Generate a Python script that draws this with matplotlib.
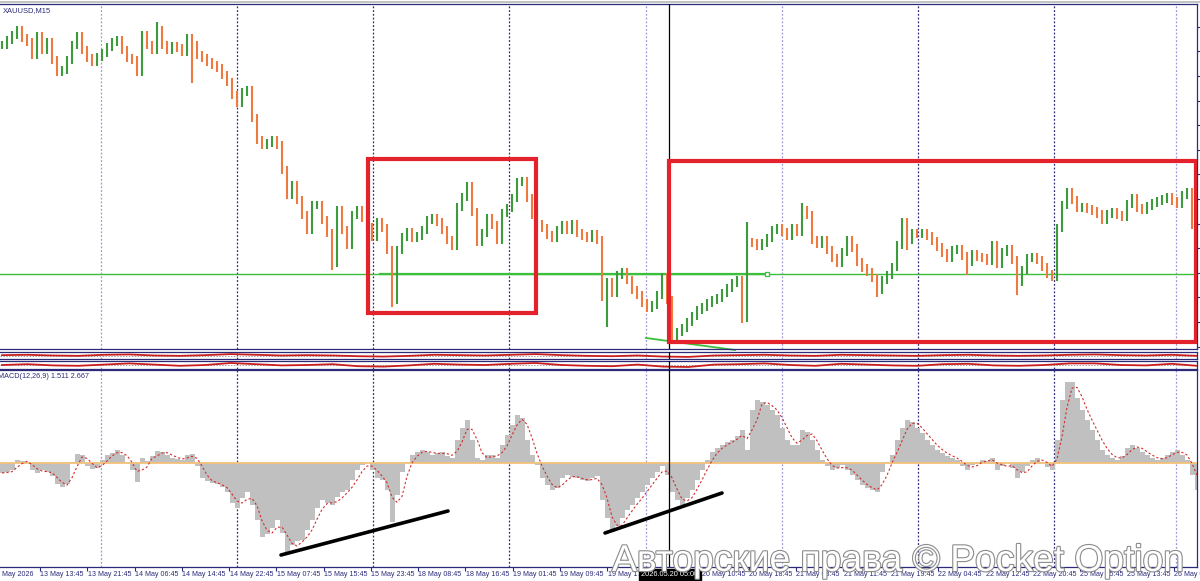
import numpy as np
import pandas as pd
import matplotlib
matplotlib.use("Agg")
import matplotlib.pyplot as plt
from matplotlib.lines import Line2D
from matplotlib.patches import Rectangle
import matplotlib.patheffects as pe

W, H = 1200, 581

# XAUUSD M15 closes, one value per ~5 px of the screenshot
close = [
    4755, 4760, 4765, 4770, 4762, 4758, 4745, 4764, 4750, 4758, 4740, 4728, 4730, 4740, 4755, 4764,
    4750, 4742, 4738, 4743, 4747, 4753, 4758, 4760, 4750, 4742, 4740, 4728, 4765, 4755, 4750, 4770,
    4755, 4750, 4754, 4752, 4748, 4762, 4755, 4745, 4742, 4738, 4735, 4732, 4725, 4718, 4705, 4697,
    4708, 4710, 4682, 4660, 4655, 4657, 4660, 4655, 4630, 4605, 4615, 4600, 4585, 4570, 4595, 4595,
    4580, 4567, 4537, 4590, 4570, 4555, 4585, 4590, 4582, 4573, 4563, 4578, 4572, 4550, 4500, 4550,
    4563, 4568, 4562, 4564, 4570, 4580, 4582, 4578, 4570, 4560, 4554, 4593, 4603, 4614, 4588, 4558,
    4567, 4582, 4575, 4560, 4587, 4592, 4602, 4618, 4619, 4602, 4585, 4576, 4572, 4565, 4562, 4570,
    4575, 4570, 4576, 4567, 4564, 4562, 4566, 4560, 4503, 4518, 4507, 4525, 4528, 4520, 4510, 4505,
    4497, 4492, 4495, 4505, 4523, 4500, 4464, 4468, 4472, 4478, 4484, 4490, 4493, 4497, 4500, 4502,
    4507, 4512, 4517, 4520, 4482, 4558, 4557, 4554, 4557, 4562, 4570, 4572, 4568, 4564, 4572, 4568,
    4590, 4585, 4560, 4556, 4560, 4550, 4542, 4537, 4548, 4560, 4552, 4538, 4532, 4528, 4522, 4510,
    4520, 4525, 4533, 4555, 4578, 4560, 4567, 4566, 4567, 4564, 4559, 4553, 4547, 4542, 4550, 4551,
    4544, 4538, 4546, 4543, 4542, 4539, 4555, 4536, 4548, 4551, 4540, 4518, 4530, 4542, 4543, 4540,
    4533, 4526, 4523, 4572, 4595, 4608, 4600, 4592, 4593, 4591, 4589, 4586, 4580, 4586, 4588, 4585,
    4583, 4596, 4602, 4592, 4590, 4594, 4597, 4599, 4601, 4603, 4599, 4596, 4605, 4608, 4575, 4565,
]

# long wicks that stick out of the open/close range
wick_idx = [31, 38, 66, 78, 103, 121, 134, 148, 149, 160, 175, 181, 193, 203]
wick_val = [4778, 4717, 4530, 4493, 4622, 4473, 4462, 4477, 4578, 4597, 4503, 4550, 4525, 4505]

# MACD(12,26,9) main line, same sampling
macd = [
    -1.0, -0.9, -0.7, 0.3, 0.2, 0.0, -0.7, -1.0, -0.7, -0.9, -1.3, -2.1, -2.4, -2.1, 0.1, 0.9,
    0.8, -0.3, -0.6, -0.5, 0.3, 0.8, 1.0, 1.3, 0.8, 0.1, -0.7, -1.9, 0.5, 0.2, 0.7, 1.2,
    1.1, 0.8, 0.5, 0.4, 0.3, 0.8, 0.9, -0.3, -1.5, -1.8, -2.0, -2.1, -2.4, -2.9, -4.0, -4.5,
    -3.5, -2.9, -4.2, -5.7, -7.4, -7.1, -6.5, -5.7, -7.0, -8.9, -8.2, -7.8, -7.7, -6.7, -5.7, -4.5,
    -3.7, -4.0, -4.2, -3.4, -2.9, -2.7, -1.7, -0.7, -0.2, 0.0, -0.7, -1.5, -1.7, -2.7, -5.9, -3.2,
    -0.9, 0.1, 0.8, 1.1, 1.3, 1.1, 0.8, 1.0, 1.1, 0.7, 0.5, 2.3, 3.5, 4.3, 2.3, 0.5,
    0.3, 0.8, 0.8, 0.5, 1.8, 2.8, 3.8, 4.8, 4.5, 2.3, 0.8, -0.2, -1.5, -2.2, -2.7, -2.5,
    -1.5, -1.2, -1.4, -1.5, -1.7, -1.8, -1.5, -1.3, -3.7, -5.5, -6.9, -6.3, -5.5, -4.7, -4.2, -3.5,
    -2.9, -2.2, -1.5, -0.9, -0.3, -1.2, -2.9, -3.7, -4.2, -3.5, -2.7, -1.7, -0.7, 0.3, 1.1, 1.5,
    1.8, 2.1, 2.3, 2.7, 3.3, 1.3, 5.3, 6.3, 6.1, 5.8, 5.3, 4.8, 3.5, 2.3, 1.8, 1.8,
    3.3, 3.1, 2.3, 1.3, 0.3, -0.3, -0.7, -0.5, -0.2, -0.7, -1.2, -1.7, -2.2, -2.5, -2.7, -2.9,
    -0.9, 0.1, 0.8, 2.3, 3.5, 4.3, 4.1, 3.5, 3.0, 2.3, 1.8, 1.3, 1.0, 0.7, 0.5, 0.3,
    -0.3, -0.7, -0.2, 0.1, 0.3, 0.2, 0.5, -0.7, -0.3, 0.0, -0.5, -1.5, -0.9, -0.3, 0.3, 0.5,
    0.1, -0.4, -0.7, 2.3, 6.3, 8.1, 8.1, 6.5, 5.3, 4.3, 3.3, 2.3, 1.3, 0.8, 0.5, 0.3,
    0.7, 1.5, 1.8, 1.5, 1.1, 0.8, 0.5, 0.3, 0.5, 0.8, 1.1, 1.3, 0.8, 0.3, -1.2, -2.7,
]

# two small oscillator strips under the price chart (0 = bottom, 1 = top)
strip1 = [0.55, 0.6, 0.5, 0.45, 0.6, 0.65, 0.5, 0.45, 0.55, 0.7, 0.6, 0.5, 0.55, 0.5, 0.4, 0.35,
          0.45, 0.6, 0.55, 0.5, 0.6, 0.7, 0.55, 0.45, 0.4, 0.5, 0.35, 0.3, 0.5, 0.55, 0.6, 0.5,
          0.45, 0.6, 0.55, 0.5, 0.45, 0.55, 0.6, 0.5, 0.45, 0.5, 0.6, 0.65, 0.55, 0.5, 0.6, 0.45]
strip2 = [0.5, 0.6, 0.45, 0.4, 0.55, 0.7, 0.55, 0.4, 0.5, 0.75, 0.6, 0.45, 0.5, 0.6, 0.35, 0.3,
          0.45, 0.65, 0.55, 0.5, 0.65, 0.75, 0.5, 0.4, 0.35, 0.55, 0.3, 0.25, 0.55, 0.6, 0.7, 0.5,
          0.4, 0.65, 0.55, 0.45, 0.4, 0.6, 0.65, 0.45, 0.4, 0.5, 0.7, 0.7, 0.5, 0.45, 0.65, 0.4]

time_labels = [
    "13 May 13:45", "13 May 21:45", "14 May 06:45", "14 May 14:45", "14 May 22:45", "15 May 07:45",
    "15 May 15:45", "15 May 23:45", "18 May 08:45", "18 May 16:45", "19 May 01:45", "19 May 09:45",
    "19 May 17:45", "20 May 02:45", "20 May 10:45", "20 May 18:45", "21 May 03:45", "21 May 11:45",
    "21 May 19:45", "22 May 04:45", "22 May 12:45", "22 May 20:45", "25 May 05:45", "25 May 13:45",
    "26 May 00:45",
]
hidden_label = "20 May 02:45"  # sits under the crosshair time box

NAVY = "#2b2b7a"
GREEN_UP = "#3d9a3d"
ORANGE_DN = "#ee7a40"
LEVEL = 4526
XMIN, XMAX = -0.4, 239.0


def rect(x0, y0, x1, y1):
    return [x0 / W, 1 - y1 / H, (x1 - x0) / W, (y1 - y0) / H]


def px2i(px):
    return (px - 2) / 5.0


fig = plt.figure(figsize=(W / 100, H / 100), dpi=100)
fig.patch.set_facecolor("white")

ax = fig.add_axes(rect(0, 4, 1197, 349))
s1 = fig.add_axes(rect(0, 352, 1197, 359))
s2 = fig.add_axes(rect(0, 361, 1197, 369))
am = fig.add_axes(rect(0, 370, 1197, 567))

grid_px = [101, 237, 373, 509, 646, 782, 918, 1054, 1176]
grid_col = ["#9a9ad6", NAVY, NAVY, NAVY, "#9a9ad6", "#9a9ad6", NAVY, NAVY, "#9a9ad6"]

for a in (ax, s1, s2, am):
    a.set_xlim(XMIN, XMAX)
    a.set_facecolor("white")
    for sp in a.spines.values():
        sp.set_color(NAVY)
        sp.set_linewidth(0.9)
    a.spines["left"].set_visible(False)
    a.tick_params(left=False, labelleft=False, bottom=False, labelbottom=False,
                  right=False, labelright=False)
    for gx, gc in zip(grid_px, grid_col):
        a.axvline(px2i(gx), color=gc, lw=0.9, ls=(0, (1.5, 1.5)), zorder=0)
    a.axvline(px2i(669), color="black", lw=0.9, zorder=5)

# price bars
close_a = np.array(close, dtype=float)
n = len(close_a)
xi = np.arange(n)
open_a = np.r_[close_a[0], close_a[:-1]]
lo = np.minimum(open_a, close_a) - 4
hi = np.maximum(open_a, close_a) + 4
for i, v in zip(wick_idx, wick_val):
    lo[i] = min(lo[i], v)
    hi[i] = max(hi[i], v)
up = close_a >= open_a
ax.vlines(xi[up], lo[up], hi[up], colors=GREEN_UP, lw=1.5, zorder=3)
ax.vlines(xi[~up], lo[~up], hi[~up], colors=ORANGE_DN, lw=1.5, zorder=3)
ax.set_ylim(4451, 4796)
ax.set_yticks(np.arange(4451 + 2.4, 4796, 24.6))
ax.tick_params(right=True, direction="out", length=3, color=NAVY, width=0.8)

ax.axhline(LEVEL, color="#3cbf3c", lw=1.0, zorder=2)
ax.plot([px2i(380), px2i(767)], [LEVEL, LEVEL], color="#3cbf3c", lw=1.6, zorder=2)
ax.plot([px2i(767)], [LEVEL], marker="s", ms=3.2, mfc="white", mec="#3cbf3c", mew=0.9, zorder=4)
ax.plot([px2i(646), px2i(735)], [4462, 4450], color="#3cbf3c", lw=1.3, zorder=2, clip_on=False)

red = "#e3222c"
ax.add_patch(Rectangle((px2i(368), 4487), px2i(536) - px2i(368), 4641 - 4487,
                       fill=False, ec=red, lw=3.0, zorder=6))
ax.add_patch(Rectangle((px2i(669), 4458), px2i(1196) - px2i(669), 4639 - 4458,
                       fill=False, ec=red, lw=3.0, zorder=6))

ax.text(3 / 1197, 1 - 7 / 345, "XAUUSD,M15", transform=ax.transAxes, fontsize=5.4,
        color=NAVY, family="Liberation Sans", va="center", ha="left")

# oscillator strips
sx = np.linspace(0, n - 1, len(strip1))
for a, vals in ((s1, strip1), (s2, strip2)):
    a.set_ylim(0, 1)
    a.axhline(0.5, color="#a0a0a0", lw=0.7, ls=(0, (1.5, 1.5)), zorder=1)
    a.plot(sx, vals, color="#c81e1e", lw=1.3, zorder=3)
    a.set_yticks([])

# MACD panel
macd_a = np.array(macd)
signal = pd.Series(macd_a).rolling(3, min_periods=1).mean().to_numpy()
am.bar(xi, macd_a, width=1.0, color="#c0c0c0", zorder=2)
am.axhline(0, color="#f5c27a", lw=1.3, zorder=3)
am.plot(xi, signal, color="#d42a2a", lw=0.8, ls=(0, (2, 2)), zorder=4)
am.set_ylim(-10.4, 9.3)
am.set_yticks([])

am.plot([px2i(281), px2i(448)], [-9.2, -4.8], color="black", lw=2.6, solid_capstyle="round", zorder=6)
am.plot([px2i(605), px2i(722)], [-7.0, -3.0], color="black", lw=2.6, solid_capstyle="round", zorder=6)

am.text(-2 / 1197, 1 - 7 / 197, "MACD(12,26,9) 1.511 2.667", transform=am.transAxes,
        fontsize=5.2, color=NAVY, family="Liberation Sans", va="center", ha="left")

# time axis
tick_pos = [px2i(40 + 47.25 * k) for k in range(len(time_labels))]
am.set_xticks(tick_pos)
am.tick_params(bottom=True, length=3, color=NAVY, width=0.8, direction="out")
tfont = dict(fontsize=5.1, color=NAVY, family="Liberation Sans")
for p, lab in zip(tick_pos, time_labels):
    if lab == hidden_label:
        continue
    am.annotate(lab, xy=(p, 0), xycoords=("data", "axes fraction"), xytext=(0.5, -8),
                textcoords="offset pixels", ha="left", va="center", annotation_clip=False, **tfont)
am.annotate("12 May 2026", xy=(px2i(33), 0), xycoords=("data", "axes fraction"), xytext=(0, -8),
            textcoords="offset pixels", ha="right", va="center", annotation_clip=False, **tfont)
am.annotate("2026.05.20 05:00", xy=(px2i(670), 0), xycoords=("data", "axes fraction"), xytext=(0, -8),
            textcoords="offset pixels", ha="center", va="center", annotation_clip=False,
            fontsize=5.3, color="white", family="Liberation Sans",
            bbox=dict(boxstyle="square,pad=0.35", fc="black", ec="black"), zorder=10)

# window frame line on top
fig.add_artist(Line2D([0, 1], [1 - 1.5 / H, 1 - 1.5 / H], color="#b8b8b8", lw=1.2))

# watermark
fig.text(612 / W, 1 - 571 / H, "Авторские права © Pocket Option", fontsize=26.8,
         family="Liberation Sans", color="white", ha="left", va="baseline", zorder=20,
         path_effects=[pe.withStroke(linewidth=1.6, foreground="#8c8c8c")])

fig.savefig("out.png", dpi=100, facecolor="white")
